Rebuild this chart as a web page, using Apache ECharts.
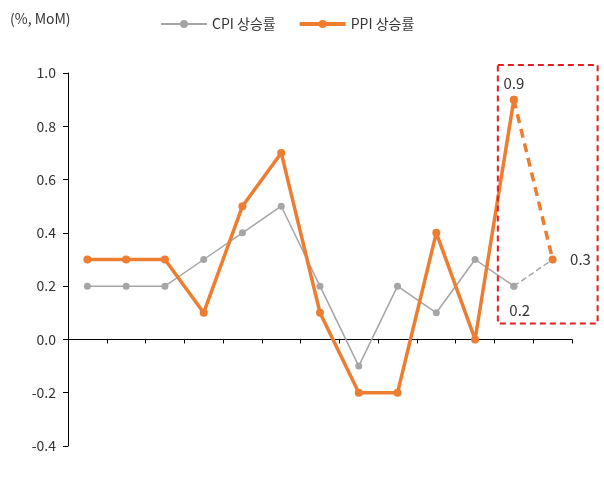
<!DOCTYPE html>
<html><head><meta charset="utf-8">
<script src="https://cdn.jsdelivr.net/npm/echarts@6/dist/echarts.min.js"></script>
<style>body{margin:0;background:#fff}#c{width:604px;height:487px}</style>
</head><body><div id="c"></div>
<script>
const categories=['24.08','24.09','24.10','24.11','24.12','25.01','25.02','25.03','25.04','25.05','25.06','25.07','25.08'];
const cpi=[0.2,0.2,0.2,0.3,0.4,0.5,0.2,-0.1,0.2,0.1,0.3,0.2,null];
const ppi=[0.3,0.3,0.3,0.1,0.5,0.7,0.1,-0.2,-0.2,0.4,0.0,0.9,null];
const cpiFcst=[null,null,null,null,null,null,null,null,null,null,null,0.2,0.3];
const ppiFcst=[null,null,null,null,null,null,null,null,null,null,null,0.9,0.3];
const yTicks=[-0.4,-0.2,0,0.2,0.4,0.6,0.8,1.0];
const GRAY='#A5A5A5',OR='#ED7D31';
const font='"Noto Sans CJK KR","Noto Sans",sans-serif';
const chart=echarts.init(document.getElementById('c'));
const title={type:'text',left:10,top:12,style:{text:'(%, MoM)',font:'14px '+font,fill:'#333'}};
chart.setOption({
  animation:false,
  textStyle:{fontFamily:font},
  grid:{left:68,right:32,top:73,bottom:41,containLabel:false,outerBoundsMode:'none'},
  graphic:[title],
  legend:{top:12,left:155,itemGap:22,itemWidth:46,itemHeight:10,textStyle:{fontSize:14,color:'#333'},
    data:[{name:'CPI 상승률'},{name:'PPI 상승률',itemStyle:{color:OR},lineStyle:{width:4}}]},
  xAxis:{type:'category',data:categories,boundaryGap:true,
    axisLine:{onZero:true,lineStyle:{color:'#000'}},axisTick:{show:true,length:4,lineStyle:{color:'#000'},interval:0},
    axisLabel:{interval:1,color:'#333',fontSize:14,margin:121}},
  yAxis:{type:'value',min:-0.4,max:1.0,interval:0.2,
    axisLine:{show:true,lineStyle:{color:'#000'}},axisTick:{show:true,length:5,lineStyle:{color:'#000'}},
    splitLine:{show:false},axisLabel:{color:'#333',fontSize:14,margin:12,formatter:v=>v.toFixed(1)}},
  series:[
    {name:'CPI 상승률',type:'line',data:cpi,symbol:'circle',symbolSize:7,lineStyle:{width:1.5,color:GRAY},itemStyle:{color:GRAY},z:2},
    {name:'PPI 상승률',type:'line',data:ppi,symbol:'circle',symbolSize:8,lineStyle:{width:3.5,color:OR},itemStyle:{color:OR},z:3},
    {name:'CPI 상승률',type:'line',data:cpiFcst,symbol:'circle',symbolSize:7,lineStyle:{width:1.5,color:GRAY,type:'dashed'},itemStyle:{color:GRAY},z:2,
      label:{show:true,fontSize:15,color:'#333',formatter:p=>p.dataIndex===11?'0.2':'0.3',position:'right',distance:14},
      labelLayout:p=>p.dataIndex===11?{dx:-22,dy:24}:{}},
    {name:'PPI 상승률',type:'line',data:ppiFcst,symbol:'circle',symbolSize:8,lineStyle:{width:3.5,color:OR,type:[9,6]},itemStyle:{color:OR},z:3,
      label:{show:true,fontSize:15,color:'#333',position:'top',formatter:p=>p.dataIndex===11?'0.9':''}}
  ]
});
const a=chart.convertToPixel({xAxisIndex:0,yAxisIndex:0},['25.07',1.03]);
const b=chart.convertToPixel({xAxisIndex:0,yAxisIndex:0},['25.08',0.06]);
chart.setOption({graphic:[title,
  {type:'rect',shape:{x:a[0]-16,y:a[1],width:(b[0]-a[0])+61,height:b[1]-a[1]},style:{fill:'none',stroke:'#E02020',lineWidth:2,lineDash:[6,4]},z:10}]});
</script></body></html>
